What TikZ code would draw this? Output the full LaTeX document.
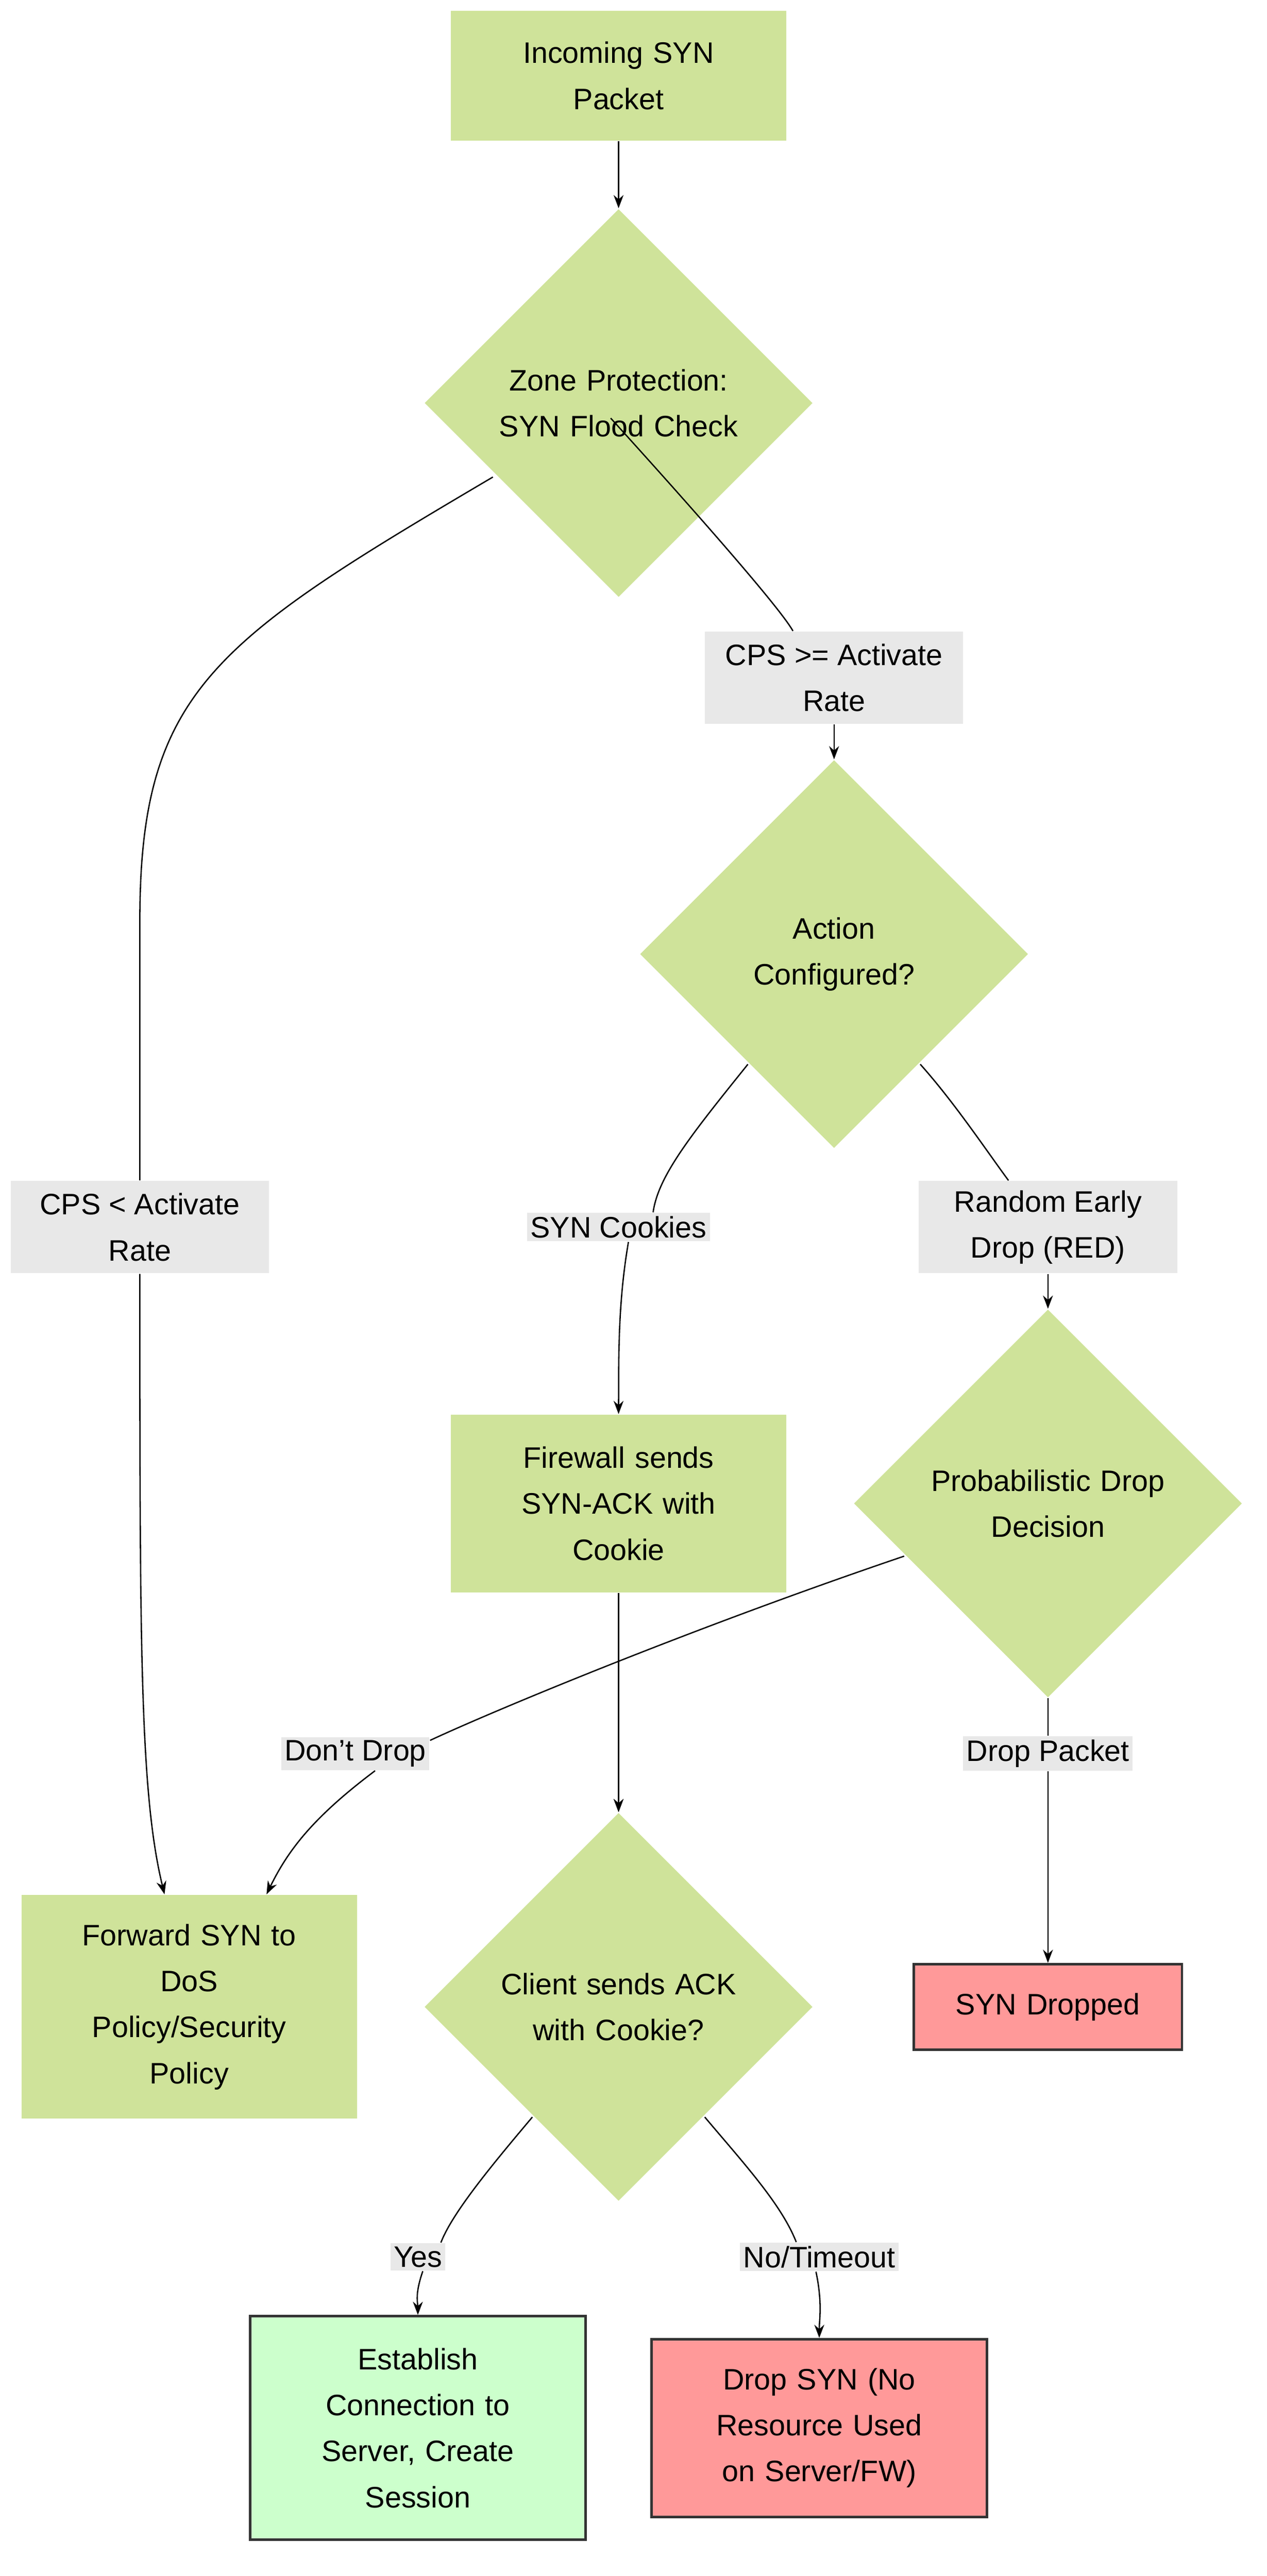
\documentclass[tikz,border=0pt]{standalone}
\usepackage{fontspec}
\setmainfont{Liberation Sans}
\usetikzlibrary{shapes.geometric,arrows.meta}
\definecolor{leaf}{HTML}{CFE39A}
\definecolor{tag}{HTML}{E8E8E8}
\definecolor{drop}{HTML}{FF9999}
\definecolor{okay}{HTML}{CCFFCC}
\tikzset{
    Box/.style={rectangle, fill=leaf, inner sep=0pt, align=center,
      minimum width=204pt, text width=180pt},
    Ask/.style={diamond, fill=leaf, inner sep=0pt, align=center,
      minimum width=236pt, minimum height=236pt, text width=150pt},
    Tag/.style={fill=tag, inner sep=2pt, align=center},
    End/.style={rectangle, draw=black!80, line width=1.5pt, inner sep=0pt,
      align=center, minimum width=204pt, text width=180pt},
}
\begin{document}
\begin{tikzpicture}[x=1pt, y=-1pt, line width=0.8pt,
    font=\fontsize{18}{28}\selectfont,
    arr/.style={-{Stealth[length=8pt,width=6pt]}}]
\useasboundingbox (0,0) rectangle (770,1566);
% nodes
\node [Box, minimum height=79pt] (syn) at (376,46) {Incoming SYN\\Packet};
\node [Ask] (zone) at (376,245) {Zone Protection:\\SYN Flood Check};
\node [Tag, minimum width=157pt, minimum height=56pt] (hi) at (507,412) {CPS >= Activate\\Rate};
\node [Tag, minimum width=157pt, minimum height=56pt] (lo) at (85,746) {CPS < Activate\\Rate};
\node [Ask] (act) at (507,580) {Action\\Configured?};
\node [Tag] (cook) at (376,746) {SYN Cookies};
\node [Tag, minimum width=157pt, minimum height=56pt] (red) at (637,746) {Random Early\\Drop (RED)};
\node [Box, minimum height=108pt] (fw) at (376,914) {Firewall sends\\SYN-ACK with\\Cookie};
\node [Ask] (prob) at (637,914) {Probabilistic Drop\\Decision};
\node [Tag] (keep) at (216,1066) {Don't Drop};
\node [Tag] (pkt) at (637,1066) {Drop Packet};
\node [Box, minimum height=136pt] (fwd) at (115,1220) {Forward SYN to\\DoS\\Policy/Security\\Policy};
\node [Ask] (ack) at (376,1220) {Client sends ACK\\with Cookie?};
\node [End, fill=drop, minimum width=163pt, text width=150pt, minimum height=52pt] (gone) at (637,1220) {SYN Dropped};
\node [Tag] (yes) at (254,1372) {Yes};
\node [Tag] (nope) at (498,1372) {No/Timeout};
\node [End, fill=okay, minimum height=136pt] (est) at (254,1476) {Establish\\Connection to\\Server, Create\\Session};
\node [End, fill=drop, minimum height=108pt] (dsyn) at (498,1476) {Drop SYN (No\\Resource Used\\on Server/FW)};
% connectors
\draw [arr] (syn) -- (zone);
\draw (zone.south east) ++(-64,-50) .. controls +(20,22) and +(-10,-18) .. (hi.north -| 482,0);
\draw [arr] (hi) -- (act);
\draw (zone.west) ++(42,45) .. controls (130,390) and (85,420) .. (85,560) -- (lo.north);
\draw [arr] (lo.south) .. controls (85,1000) and (85,1090) .. (fwd.north -| 100,0);
\draw (act.west) ++(66,67) .. controls (420,690) and (400,715) .. (cook.north -| 397,0);
\draw [arr] (cook.south -| 382,0) .. controls (376,790) and (376,820) .. (fw);
\draw (act.east) ++(-66,67) .. controls (580,670) and (600,700) .. (red.north -| 613,0);
\draw [arr] (red) -- (prob);
\draw [arr] (fw) -- (ack);
\draw (prob.west) ++(31,32) .. controls (420,990) and (300,1040) .. (keep.east |- 0,1058);
\draw [arr] (keep.south -| 228,0) .. controls (190,1105) and (175,1125) .. (fwd.north -| 162,0);
\draw (prob) -- (pkt);
\draw [arr] (pkt) -- (gone);
\draw [arr] (fw) -- (ack);
\draw (ack.west) ++(66,67) .. controls (300,1315) and (275,1345) .. (yes.north -| 268,0);
\draw [arr] (yes.south -| 257,0) .. controls (252,1395) and (254,1400) .. (est);
\draw (ack.east) ++(-66,67) .. controls (452,1315) and (475,1340) .. (nope.north -| 484,0);
\draw [arr] (nope.south -| 496,0) .. controls (500,1400) and (498,1410) .. (dsyn);
\end{tikzpicture}
\end{document}
